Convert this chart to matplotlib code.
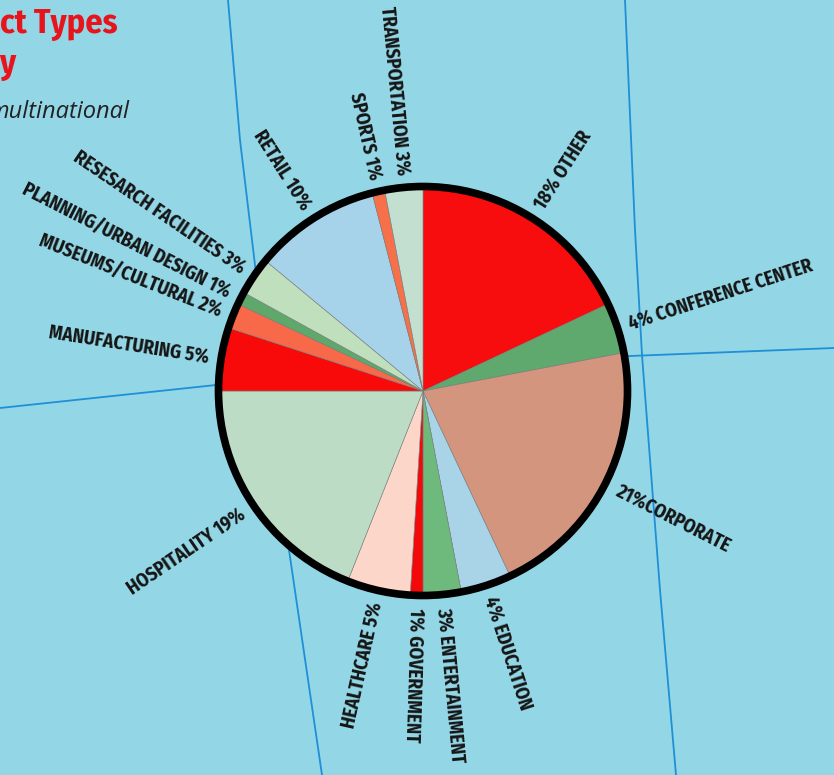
import numpy as np
import matplotlib
matplotlib.use("Agg")
from matplotlib import pyplot as plt
from matplotlib.patches import Circle

# slices, clockwise from 12 o'clock
names = ["OTHER", "CONFERENCE CENTER", "CORPORATE", "EDUCATION", "ENTERTAINMENT",
         "GOVERNMENT", "HEALTHCARE", "HOSPITALITY", "MANUFACTURING",
         "MUSEUMS/CULTURAL", "PLANNING/URBAN DESIGN", "RESESARCH FACILITIES",
         "RETAIL", "SPORTS", "TRANSPORTATION"]
shares = [18, 4, 21, 4, 3, 1, 5, 19, 5, 2, 1, 3, 10, 1, 3]
colors = ["#f70d0d", "#5fa96e", "#d4957f", "#a9d4e8", "#6dba7c",
          "#f20a0a", "#fcd7c9", "#bddcc6", "#f80a0a",
          "#f8694a", "#5ea86c", "#bfdfbd",
          "#a6d2ea", "#f6704a", "#c3dfcf"]

bg = "#93d6e6"
grid_blue = "#1f8fd6"

W, H = 834, 775
fig = plt.figure(figsize=(W / 100, H / 100), dpi=100, facecolor=bg)
ax = fig.add_axes([0, 0, 1, 1])
ax.set_facecolor(bg)

# map lines in the background (image pixel coords, y down)
map_lines = [
    [(228, 0), (240, 140), (255, 265), (289, 550), (322, 775)],
    [(625, 0), (635, 230), (642, 355), (660, 590), (676, 775)],
    [(420, 360), (630, 356), (834, 348)],
    [(0, 408), (216, 385), (420, 362)],
]
for pts in map_lines:
    xs = [p[0] for p in pts]
    ys = [H - p[1] for p in pts]
    ax.plot(xs, ys, color=grid_blue, lw=1.3, zorder=1)

cx, cy = 423, H - 391
R = 203

wedges, _ = ax.pie(shares, colors=colors, startangle=90, counterclock=False,
                   center=(cx, cy), radius=R, frame=True,
                   wedgeprops=dict(linewidth=0.4, edgecolor="#7a7a7a"))
for w in wedges:
    w.set_zorder(2)
ax.add_patch(Circle((cx, cy), R + 1.5, fill=False, edgecolor="black", lw=5.5, zorder=3))
ax.set_xlim(0, W)
ax.set_ylim(0, H)
ax.set_aspect("equal")
ax.axis("off")

cond_font = ["Fira Sans Condensed", "Barlow Condensed", "Roboto Condensed",
             "Saira SemiCondensed", "DejaVu Sans"]
r_lab = 217
for w, name, pct in zip(wedges, names, shares):
    a = (w.theta1 + w.theta2) / 2
    cw = (90 - a) % 360
    x = cx + r_lab * np.cos(np.radians(a))
    y = cy + r_lab * np.sin(np.radians(a))
    if cw < 185:
        sep = "" if name == "CORPORATE" else " "
        txt = f"{pct}%{sep}{name}"
        rot, ha = 90 - cw, "left"
    else:
        txt = f"{name} {pct}%"
        rot, ha = 270 - cw, "right"
    ax.text(x, y, txt, rotation=rot, ha=ha, va="center", rotation_mode="anchor",
            fontsize=13.7, fontweight="bold", family=cond_font, color="#151515", zorder=4)

# title, cut off at the left edge like the reference
ax.text(0, H - 24, "ct Types", ha="left", va="center", fontsize=24.5, fontweight="bold",
        family=cond_font, color="#e8141c")
ax.text(-1, H - 64, "y", ha="left", va="center", fontsize=24.5, fontweight="bold",
        family=cond_font, color="#e8141c")
ax.text(-12, H - 112, "multinational", ha="left", va="center", fontsize=17,
        style="italic", family=["Open Sans", "DejaVu Sans"], color="#222222")

fig.savefig("out.png", dpi=100, facecolor=bg)
